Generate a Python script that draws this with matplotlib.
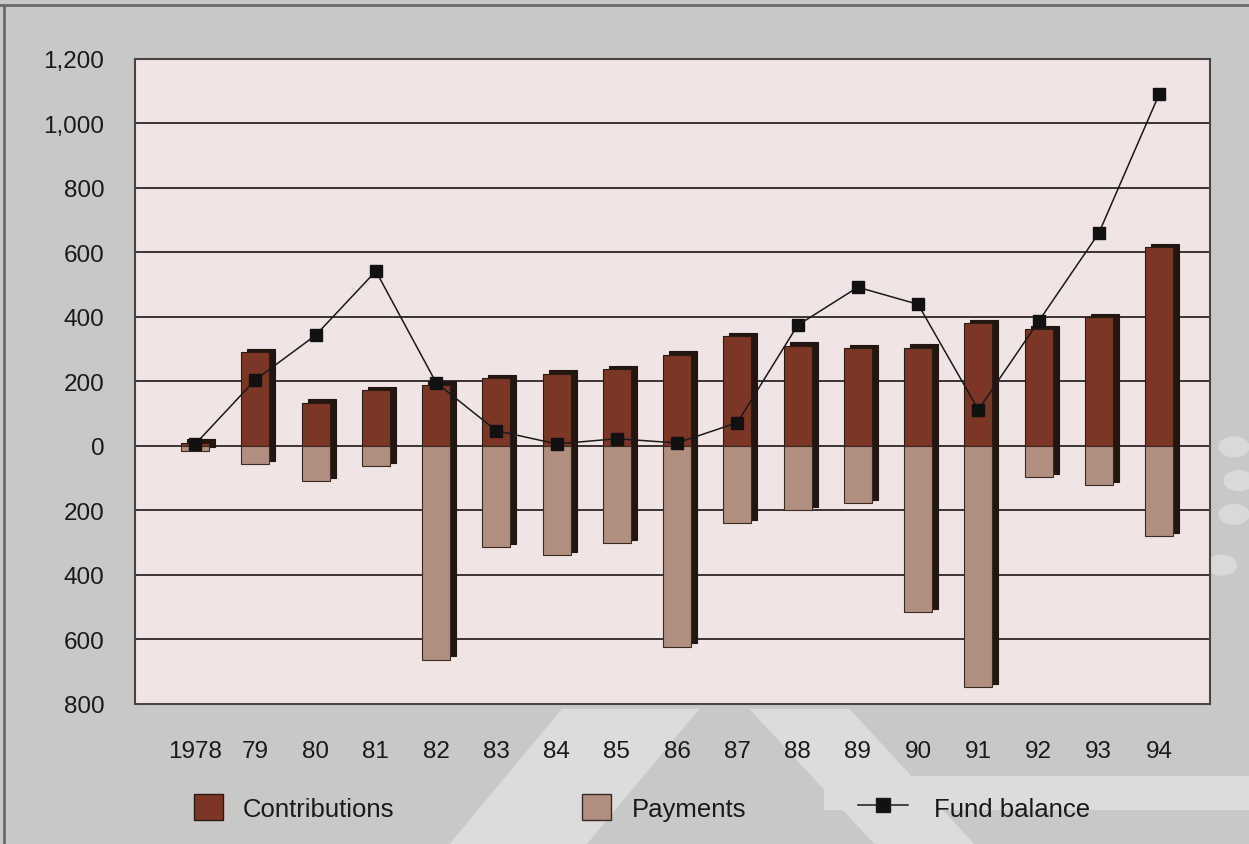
import matplotlib.pyplot as plt
import numpy as np
from matplotlib.patches import Patch, Polygon, Ellipse
from matplotlib.lines import Line2D
from matplotlib.ticker import FuncFormatter

plt.rcParams['font.family'] = ['Liberation Sans', 'DejaVu Sans']

years = ["1978", "79", "80", "81", "82", "83", "84", "85", "86",
         "87", "88", "89", "90", "91", "92", "93", "94"]
contributions = [10, 290, 134, 174, 190, 209, 224, 237, 283,
                 340, 311, 302, 305, 380, 361, 399, 617]
payments = [-15, -56, -109, -62, -663, -315, -340, -302, -623,
            -240, -199, -178, -517, -748, -97, -121, -280]
fund_balance = [5, 205, 343, 542, 196, 47, 6, 22, 9,
                72, 374, 492, 439, 112, 386, 660, 1090]
legend_labels = ["Contributions", "Payments", "Fund balance"]

contrib_color = "#7b3626"
pay_color = "#b08f80"
shade_color = "#231510"

fig = plt.figure(figsize=(12.49, 8.45), dpi=100)
fig.patch.set_facecolor("#c8c8c8")

# light decorative shapes in the background
for pts in [[(0.36, 0.0), (0.45, 0.16), (0.56, 0.16), (0.47, 0.0)],
            [(0.60, 0.16), (0.70, 0.0), (0.78, 0.0), (0.68, 0.16)],
            [(0.66, 0.08), (1.0, 0.08), (1.0, 0.04), (0.66, 0.04)]]:
    fig.add_artist(Polygon(pts, closed=True, transform=fig.transFigure,
                           facecolor="#dcdcdc", edgecolor="none", zorder=0))
for cx, cy in [(0.988, 0.47), (0.992, 0.43), (0.988, 0.39), (0.978, 0.33)]:
    fig.add_artist(Ellipse((cx, cy), 0.025, 0.025, transform=fig.transFigure,
                           facecolor="#d9d9d9", edgecolor="none", zorder=0))
fig.add_artist(Line2D([0, 1], [0.993, 0.993], transform=fig.transFigure,
                      color="#6a6a6a", linewidth=2))
fig.add_artist(Line2D([0.003, 0.003], [0, 0.993], transform=fig.transFigure,
                      color="#6a6a6a", linewidth=2))

ax = fig.add_axes([0.108, 0.166, 0.861, 0.763])
ax.set_facecolor("#f1e4e4")

x = np.arange(len(years))
w = 0.465
dx = 0.1
dy = 10

# depth side of each bar
ax.bar(x + dx, np.array(contributions) - np.array(payments),
       bottom=np.array(payments) + dy, width=w, color=shade_color,
       edgecolor=shade_color, linewidth=0.8, zorder=2)
ax.bar(x, contributions, width=w, color=contrib_color,
       edgecolor="#2a1a14", linewidth=0.8, zorder=3)
ax.bar(x, payments, width=w, color=pay_color,
       edgecolor="#3a2a24", linewidth=0.8, zorder=3)

ax.plot(x, fund_balance, color="#1a1a1a", linewidth=1.1, marker="s",
        markersize=9, markerfacecolor="#111111", markeredgecolor="#111111",
        zorder=5)

ax.set_ylim(-800, 1200)
ax.set_yticks(np.arange(-800, 1201, 200))
ax.yaxis.set_major_formatter(FuncFormatter(lambda v, p: f"{abs(int(v)):,}"))
ax.set_xlim(-1.0, 16.85)
ax.set_xticks(x)
ax.set_xticklabels(years)
ax.grid(axis="y", color="#3c3434", linewidth=1.4, zorder=1)
ax.set_axisbelow(True)
ax.tick_params(axis="both", length=0, labelsize=17.5, colors="#1a1a1a")
ax.tick_params(axis="y", pad=22)
ax.tick_params(axis="x", pad=26)
for s in ax.spines.values():
    s.set_color("#4a4444")
    s.set_linewidth(1.5)

handles = [
    Patch(facecolor=contrib_color, edgecolor="#2a1a14"),
    Patch(facecolor=pay_color, edgecolor="#3a2a24"),
    Line2D([], [], color="#1a1a1a", linewidth=1.1, marker="s",
           markersize=10, markerfacecolor="#111111"),
]
anchors = [0.155, 0.466, 0.687]
hlens = [1.13, 1.13, 1.95]
pads = [0.8, 0.8, 1.0]
for h, lab, ax0, hl, tp in zip(handles, legend_labels, anchors, hlens, pads):
    leg = fig.legend([h], [lab], loc="center left", bbox_to_anchor=(ax0, 0.043),
                     frameon=False, fontsize=18.5, handlelength=hl,
                     handleheight=1.17, handletextpad=tp, borderpad=0,
                     borderaxespad=0)
    for t in leg.get_texts():
        t.set_color("#1a1a1a")

plt.savefig("out.png", dpi=100, facecolor=fig.get_facecolor())
